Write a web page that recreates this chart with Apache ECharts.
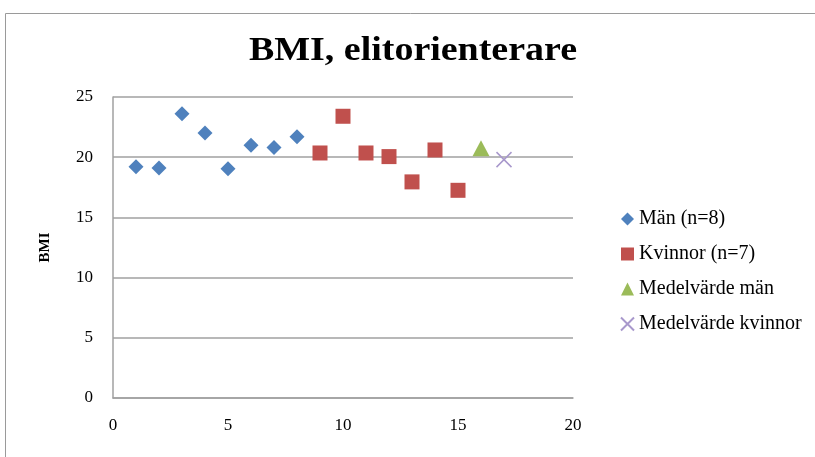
<!DOCTYPE html>
<html><head><meta charset="utf-8">
<script src="https://cdn.jsdelivr.net/npm/echarts@6/dist/echarts.min.js"></script>
<style>html,body{margin:0;padding:0;background:#fff}#c{width:815px;height:457px}</style>
</head><body><div id="c"></div>
<script>
const menX = [1, 2, 3, 4, 5, 6, 7, 8];
const menBMI = [19.2, 19.1, 23.6, 22.0, 19.05, 21.0, 20.8, 21.7];
const womenX = [9, 10, 11, 12, 13, 14, 15];
const womenBMI = [20.35, 23.4, 20.35, 20.05, 17.95, 20.6, 17.25];
const meanMenX = [16];
const meanMenBMI = [20.75];
const meanWomenX = [17];
const meanWomenBMI = [19.8];
const seriesNames = ['Män (n=8)', 'Kvinnor (n=7)', 'Medelvärde män', 'Medelvärde kvinnor'];
const titleText = 'BMI, elitorienterare';

const zip = (a, b) => a.map((v, i) => [v, b[i]]);
const serif = 'Liberation Serif, Times New Roman, serif';
const chart = echarts.init(document.getElementById('c'));
chart.setOption({
  animation: false,
  graphic: [{
    type: 'polyline', shape: { points: [[5.5, 460], [5.5, 13.5], [820, 13.5]] },
    style: { stroke: '#9a9a9a', lineWidth: 1, fill: 'none' }
  }, {
    type: 'text', x: 413, y: 51, scaleX: 1.15, originX: 0, originY: 0,
    style: { text: titleText, fontFamily: serif, fontWeight: 'bold', fontSize: 33, fill: '#000',
      align: 'center', verticalAlign: 'middle' }
  }],
  grid: { left: 113, right: 242, top: 97, bottom: 59 },
  xAxis: {
    type: 'value', min: 0, max: 20, interval: 5,
    axisLine: { show: true, lineStyle: { color: '#a0a0a0', width: 1.5 } },
    axisTick: { show: false }, splitLine: { show: false },
    axisLabel: { margin: 19, fontFamily: serif, fontSize: 17, color: '#000' }
  },
  yAxis: {
    type: 'value', min: 0, max: 25, interval: 5,
    name: 'BMI', nameLocation: 'middle', nameGap: 60, nameRotate: 90,
    nameTextStyle: { fontFamily: serif, fontWeight: 'bold', fontSize: 15, color: '#000' },
    axisLine: { show: true, lineStyle: { color: '#a0a0a0', width: 1.5 } },
    axisTick: { show: false },
    splitLine: { show: true, lineStyle: { color: '#a0a0a0', width: 1.5 } },
    axisLabel: { margin: 20, fontFamily: serif, fontSize: 17, color: '#000' }
  },
  legend: {
    orient: 'vertical', left: 615, top: 204, itemGap: 15, itemWidth: 13, itemHeight: 13,
    textStyle: { fontFamily: serif, fontSize: 20, color: '#000' },
    data: seriesNames
  },
  series: [
    { name: seriesNames[0], type: 'scatter', symbol: 'diamond', symbolSize: 15,
      itemStyle: { color: '#4F81BD', opacity: 1 }, data: zip(menX, menBMI) },
    { name: seriesNames[1], type: 'scatter', symbol: 'rect', symbolSize: 15,
      itemStyle: { color: '#C0504D', opacity: 1 }, data: zip(womenX, womenBMI) },
    { name: seriesNames[2], type: 'scatter', symbol: 'triangle', symbolSize: [17, 16],
      itemStyle: { color: '#9BBB59', opacity: 1 }, data: zip(meanMenX, meanMenBMI) },
    { name: seriesNames[3], type: 'scatter', symbol: 'path://M0,0L10,10M10,0L0,10', symbolSize: 15,
      itemStyle: { color: 'rgba(0,0,0,0)', borderColor: '#A898CC', borderWidth: 1.5, opacity: 1 },
      data: zip(meanWomenX, meanWomenBMI) }
  ]
});
</script></body></html>
